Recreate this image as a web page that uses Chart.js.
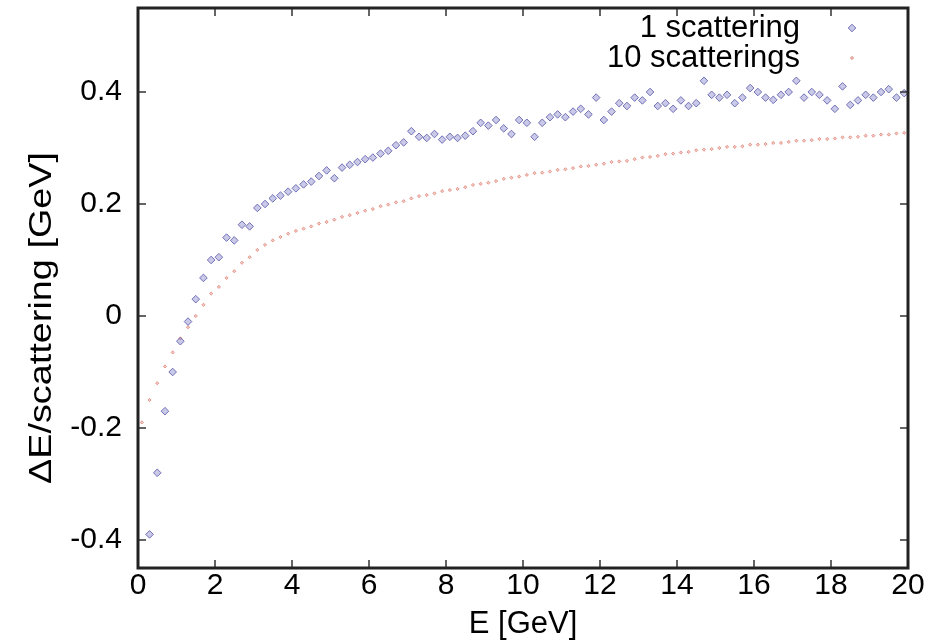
<!DOCTYPE html>
<html>
<head>
<meta charset="utf-8">
<script src="https://cdn.jsdelivr.net/npm/chart.js@4.4.1/dist/chart.umd.min.js"></script>
<style>
  body { margin: 0; background: #fff; }
  #wrap { width: 948px; height: 640px; }
</style>
</head>
<body>
<div id="wrap"><canvas id="lossChart"></canvas></div>
<script>
// beam energy (GeV)
const energies = [
  0.1, 0.3, 0.5, 0.7, 0.9, 1.1, 1.3, 1.5, 1.7, 1.9,
  2.1, 2.3, 2.5, 2.7, 2.9, 3.1, 3.3, 3.5, 3.7, 3.9,
  4.1, 4.3, 4.5, 4.7, 4.9, 5.1, 5.3, 5.5, 5.7, 5.9,
  6.1, 6.3, 6.5, 6.7, 6.9, 7.1, 7.3, 7.5, 7.7, 7.9,
  8.1, 8.3, 8.5, 8.7, 8.9, 9.1, 9.3, 9.5, 9.7, 9.9,
  10.1, 10.3, 10.5, 10.7, 10.9, 11.1, 11.3, 11.5, 11.7, 11.9,
  12.1, 12.3, 12.5, 12.7, 12.9, 13.1, 13.3, 13.5, 13.7, 13.9,
  14.1, 14.3, 14.5, 14.7, 14.9, 15.1, 15.3, 15.5, 15.7, 15.9,
  16.1, 16.3, 16.5, 16.7, 16.9, 17.1, 17.3, 17.5, 17.7, 17.9,
  18.1, 18.3, 18.5, 18.7, 18.9, 19.1, 19.3, 19.5, 19.7, 19.9
];

// dE per scattering, single scattering
const oneScattering = [
  null, -0.39, -0.28, -0.17, -0.10, -0.045, -0.01, 0.03, 0.068, 0.10,
  0.105, 0.14, 0.135, 0.163, 0.16, 0.193, 0.20, 0.21, 0.215, 0.222,
  0.228, 0.235, 0.24, 0.25, 0.26, 0.246, 0.265, 0.27, 0.275, 0.28,
  0.283, 0.29, 0.295, 0.305, 0.31, 0.33, 0.32, 0.318, 0.325, 0.315,
  0.32, 0.318, 0.322, 0.33, 0.345, 0.34, 0.35, 0.335, 0.325, 0.35,
  0.345, 0.32, 0.345, 0.355, 0.36, 0.355, 0.365, 0.37, 0.36, 0.39,
  0.35, 0.365, 0.38, 0.375, 0.39, 0.385, 0.40, 0.375, 0.38, 0.37,
  0.385, 0.375, 0.38, 0.42, 0.395, 0.39, 0.395, 0.38, 0.39, 0.407,
  0.40, 0.39, 0.386, 0.395, 0.40, 0.42, 0.39, 0.40, 0.395, 0.385,
  0.37, 0.41, 0.377, 0.385, 0.395, 0.39, 0.40, 0.405, 0.39, 0.398
];

// dE per scattering, averaged over 10 scatterings
const tenScatterings = [
  -0.19, -0.15, -0.12, -0.09, -0.065, -0.04, -0.02, 0.0, 0.02, 0.04,
  0.052, 0.068, 0.08, 0.095, 0.105, 0.118, 0.127, 0.135, 0.141, 0.147,
  0.152, 0.156, 0.16, 0.165, 0.168, 0.172, 0.177, 0.18, 0.184, 0.188,
  0.191, 0.196, 0.199, 0.203, 0.205, 0.21, 0.214, 0.216, 0.219, 0.223,
  0.225, 0.227, 0.23, 0.234, 0.236, 0.238, 0.241, 0.245, 0.247, 0.249,
  0.252, 0.255, 0.256, 0.258, 0.261, 0.262, 0.264, 0.267, 0.268, 0.27,
  0.272, 0.275, 0.276, 0.277, 0.28, 0.283, 0.284, 0.286, 0.289, 0.29,
  0.292, 0.293, 0.296, 0.297, 0.298, 0.30, 0.302, 0.302, 0.303, 0.306,
  0.306, 0.307, 0.309, 0.309, 0.311, 0.313, 0.313, 0.314, 0.316, 0.316,
  0.317, 0.319, 0.319, 0.32, 0.322, 0.322, 0.324, 0.324, 0.326, 0.327
];

const xTicks = [0, 2, 4, 6, 8, 10, 12, 14, 16, 18, 20];
const yTicks = [-0.4, -0.2, 0, 0.2, 0.4];
const seriesNames = ["1 scattering", "10 scatterings"];
const yTitle = "ΔE/scattering [GeV]";

const FONT = "'Liberation Sans', Arial, sans-serif";
const toPoints = (ys) => energies.map((e, i) => ({ x: e, y: ys[i] }));

// gnuplot style box with inward ticks, y label and key inside top right
const frameAndKey = {
  id: "frameAndKey",
  afterDatasetsDraw(chart) {
    const { ctx, chartArea: a, scales } = chart;
    ctx.save();
    ctx.strokeStyle = "#333";
    ctx.lineWidth = 1.5;
    ctx.beginPath();
    xTicks.forEach((t) => {
      const px = scales.x.getPixelForValue(t);
      ctx.moveTo(px, a.bottom); ctx.lineTo(px, a.bottom - 8);
      ctx.moveTo(px, a.top); ctx.lineTo(px, a.top + 8);
    });
    yTicks.forEach((t) => {
      const py = scales.y.getPixelForValue(t);
      ctx.moveTo(a.left, py); ctx.lineTo(a.left + 8, py);
      ctx.moveTo(a.right, py); ctx.lineTo(a.right - 8, py);
    });
    ctx.stroke();
    ctx.lineWidth = 3;
    ctx.strokeStyle = "#222";
    ctx.strokeRect(a.left, a.top, a.right - a.left, a.bottom - a.top);

    // y axis label, a bit stretched along its length like the original
    ctx.save();
    ctx.translate(42, (a.top + a.bottom) / 2 + 30);
    ctx.rotate(-Math.PI / 2);
    ctx.scale(1.22, 1);
    ctx.font = "31px " + FONT;
    ctx.fillStyle = "#000";
    ctx.textAlign = "center";
    ctx.textBaseline = "middle";
    ctx.fillText(yTitle, 0, 0);
    ctx.restore();

    // key
    ctx.font = "31px " + FONT;
    ctx.fillStyle = "#000";
    ctx.textAlign = "right";
    ctx.textBaseline = "middle";
    const ds = chart.data.datasets;
    seriesNames.forEach((name, i) => {
      const ky = 28 + i * 30;
      ctx.fillText(name, 800, ky);
      const d = ds[i];
      ctx.fillStyle = d.pointBackgroundColor;
      ctx.strokeStyle = d.pointBorderColor;
      ctx.lineWidth = 1;
      const r = d.pointRadius;
      ctx.beginPath();
      ctx.moveTo(852, ky - r); ctx.lineTo(852 + r, ky);
      ctx.lineTo(852, ky + r); ctx.lineTo(852 - r, ky);
      ctx.closePath();
      ctx.fill(); ctx.stroke();
      ctx.fillStyle = "#000";
    });
    ctx.restore();
  }
};

new Chart(document.getElementById("lossChart"), {
  type: "scatter",
  data: {
    datasets: [
      {
        label: seriesNames[0],
        data: toPoints(oneScattering),
        pointStyle: "rectRot",
        pointRadius: 3.8,
        pointBorderWidth: 1,
        pointBorderColor: "rgba(100, 100, 175, 0.9)",
        pointBackgroundColor: "rgba(150, 150, 210, 0.5)",
      },
      {
        label: seriesNames[1],
        data: toPoints(tenScatterings),
        pointStyle: "rectRot",
        pointRadius: 1.6,
        pointBorderWidth: 0.8,
        pointBorderColor: "rgba(215, 110, 100, 0.8)",
        pointBackgroundColor: "rgba(235, 150, 130, 0.5)",
      },
    ],
  },
  options: {
    responsive: true,
    maintainAspectRatio: false,
    animation: false,
    layout: { padding: { top: 8, right: 40, left: 0, bottom: 0 } },
    plugins: {
      legend: { display: false },
      tooltip: { enabled: false },
    },
    scales: {
      x: {
        type: "linear",
        min: 0,
        max: 20,
        afterBuildTicks: (s) => { s.ticks = xTicks.map((v) => ({ value: v })); },
        afterFit: (s) => { s.height = 72; s.paddingLeft = 0; s.paddingRight = 0; },
        grid: { display: false, drawTicks: false },
        border: { display: false },
        ticks: {
          padding: 0,
          color: "#000",
          maxRotation: 0,
          font: { family: FONT, size: 30 },
        },
        title: {
          display: true,
          text: "E [GeV]",
          color: "#000",
          padding: { top: 0, bottom: 0 },
          font: { family: FONT, size: 31, lineHeight: 1 },
        },
      },
      y: {
        min: -0.45,
        max: 0.55,
        afterBuildTicks: (s) => { s.ticks = yTicks.map((v) => ({ value: v })); },
        afterFit: (s) => { s.width = 138; s.paddingTop = 0; s.paddingBottom = 0; },
        grid: { display: false, drawTicks: false },
        border: { display: false },
        ticks: {
          padding: 16,
          color: "#000",
          callback: (v) => String(Math.round(v * 10) / 10),
          font: { family: FONT, size: 30 },
        },
        title: { display: false },
      },
    },
  },
  plugins: [frameAndKey],
});
</script>
</body>
</html>
